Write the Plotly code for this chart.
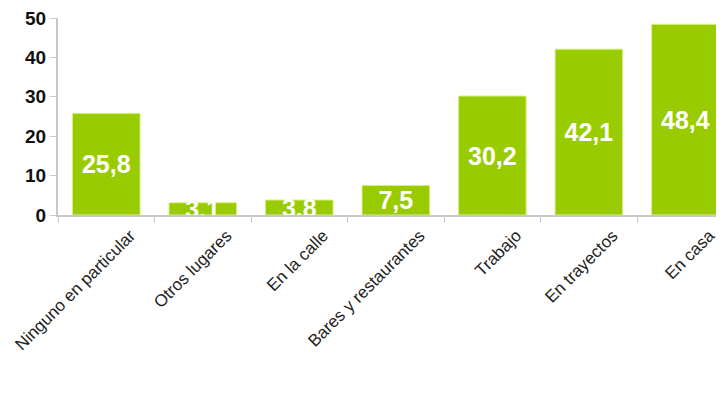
import plotly.graph_objects as go

categories = ["Ninguno en particular", "Otros lugares", "En la calle",
              "Bares y restaurantes", "Trabajo", "En trayectos", "En casa"]
values = [25.8, 3.1, 3.8, 7.5, 30.2, 42.1, 48.4]
y_ticks = [0, 10, 20, 30, 40, 50]

fig = go.Figure(go.Bar(
    x=categories, y=values,
    marker=dict(color="#99cc00", line=dict(color="#d8ee88", width=1)),
    texttemplate="%{y:.1f}",
    textposition="inside",
    insidetextanchor="middle",
    constraintext="none",
    textfont=dict(family="Liberation Sans, Arial", size=25, color="white", weight="bold"),
    cliponaxis=True,
))

# page body has an 8px margin, so the figure is sized to the visible area
fig.update_layout(
    width=716, height=394,
    margin=dict(l=50, r=0, t=10, b=187),
    paper_bgcolor="white", plot_bgcolor="white",
    separators=", ",
    bargap=0.3,
    showlegend=False,
    font=dict(family="Liberation Sans, Arial", color="#222222"),
)
fig.update_xaxes(
    range=[-0.5, 6.4], automargin=False,
    showline=True, linecolor="#c8c8c8", linewidth=2,
    ticks="outside", tickson="boundaries", ticklen=6, tickcolor="#c8c8c8",
    tickangle=-45,
    tickfont=dict(family="Liberation Sans, Arial", size=17, color="#222222"),
    ticklabelshift=24, ticklabelstandoff=2,
    ticklabeloverflow="allow",
    showgrid=False,
)
fig.update_yaxes(
    range=[0, 50], tickvals=y_ticks, automargin=False,
    showline=True, linecolor="#c8c8c8", linewidth=2,
    ticks="outside", ticklen=6, tickcolor="#c8c8c8",
    tickfont=dict(family="Liberation Sans, Arial", size=19, color="#111111", weight="bold"),
    ticklabeloverflow="allow",
    showgrid=False, zeroline=False,
)

fig.write_html("out.html")
